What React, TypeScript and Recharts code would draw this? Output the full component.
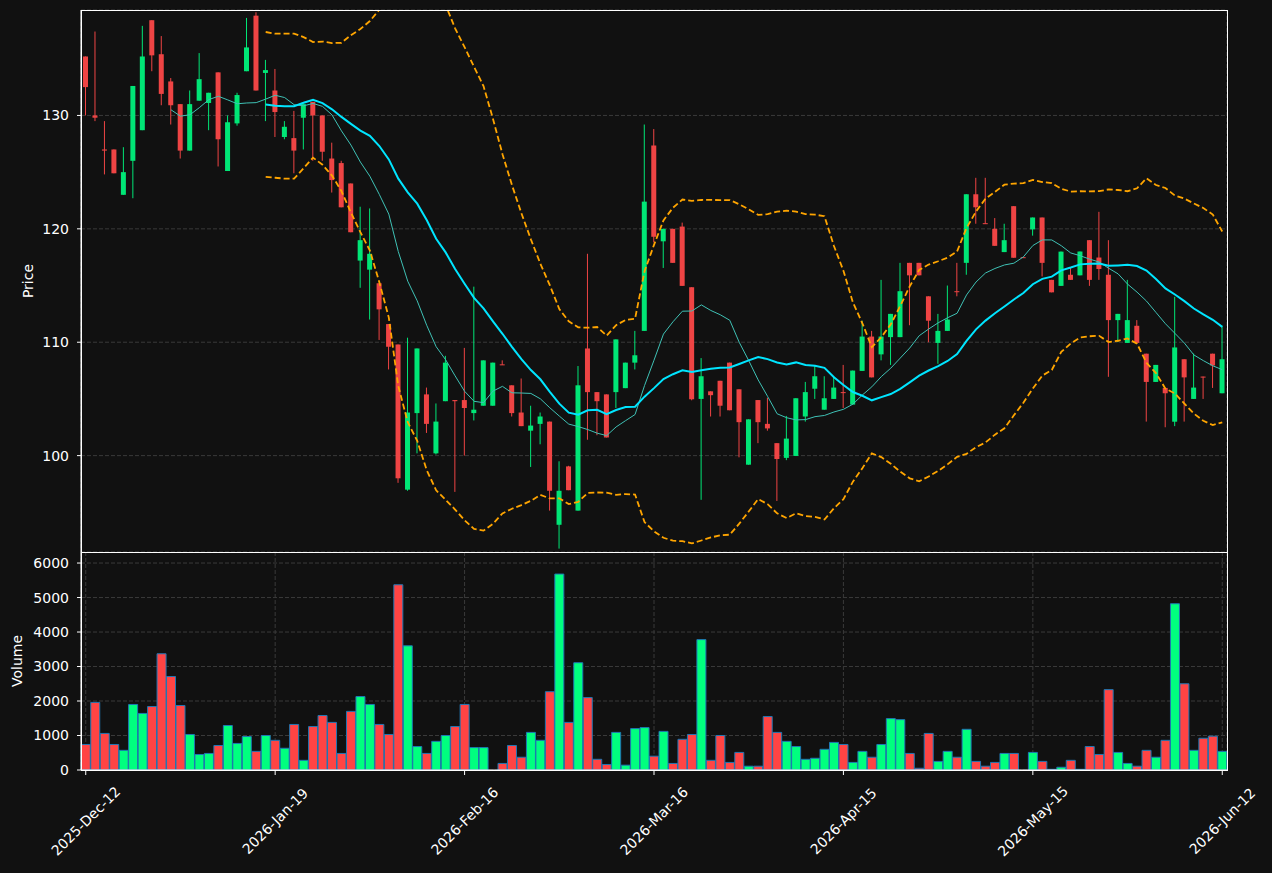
import { Bar, BarChart, CartesianGrid, Cell, ComposedChart, Line, XAxis, YAxis } from 'recharts';

const tickIndex = [0, 20, 40, 60, 80, 100, 120];
const tickLabels = ['2025-Dec-12', '2026-Jan-19', '2026-Feb-16', '2026-Mar-16', '2026-Apr-15', '2026-May-15', '2026-Jun-12'];

const opens = [
  135.2, 130.0, 127.0, 127.0, 123.0, 126.0, 128.7, 138.4, 135.4, 133.0,
  131.0, 126.9, 131.3, 131.1, 133.8, 125.1, 129.3, 133.9, 138.8, 133.75,
  132.2, 128.1, 128.0, 129.8, 131.2, 130.0, 126.2, 125.8, 124.0, 117.2,
  116.4, 115.2, 111.6, 109.8, 97.0, 103.75, 105.4, 100.2, 104.8, 104.9,
  104.9, 103.75, 104.4, 104.4, 108.05, 106.2, 103.8, 102.2, 102.8, 103.0,
  93.9, 99.05, 95.15, 109.45, 105.6, 105.4, 105.6, 105.95, 108.2, 111.0,
  127.35, 118.9, 120.0, 120.2, 114.85, 105.0, 105.67, 106.6, 108.2, 105.85,
  99.2, 104.9, 102.8, 101.1, 99.8, 99.97, 103.45, 105.9, 104.05, 105.0,
  105.6, 104.5, 107.47, 110.5, 108.93, 110.45, 110.45, 117.0, 117.0, 114.05,
  109.94, 111.0, 114.5, 117.0, 123.05, 120.5, 120.0, 117.95, 122.0, 117.5,
  119.95, 121.0, 115.5, 114.97, 115.95, 115.9, 119.0, 117.47, 115.95, 111.95,
  109.94, 111.45, 108.99, 106.5, 105.97, 102.99, 108.5, 105.0, 106.97, 108.99,
  105.5,
];
const highs = [
  135.2, 137.4, 129.5, 127.0, 127.2, 132.6, 137.9, 138.4, 137.0, 133.3,
  131.0, 132.2, 135.5, 132.0, 133.8, 130.0, 132.0, 138.6, 139.1, 134.9,
  134.1, 129.5, 130.4, 131.0, 131.2, 130.0, 127.6, 126.0, 124.0, 121.95,
  121.8, 115.2, 111.6, 109.8, 110.4, 109.45, 106.0, 104.6, 108.8, 104.9,
  109.5, 114.9, 108.4, 108.2, 108.4, 106.2, 106.8, 104.4, 103.8, 103.0,
  99.5, 99.1, 107.9, 117.8, 105.6, 105.4, 110.25, 108.2, 111.0, 129.2,
  128.8, 120.0, 120.0, 120.55, 114.85, 108.6, 105.67, 106.6, 108.2, 105.85,
  103.2, 104.9, 105.1, 101.1, 103.5, 105.06, 106.5, 107.9, 107.0, 107.0,
  108.0, 107.5, 111.9, 111.0, 115.5, 112.5, 117.0, 117.0, 117.0, 114.05,
  112.5, 115.0, 117.0, 123.05, 124.5, 124.5, 120.95, 120.45, 122.0, 117.5,
  121.0, 121.0, 115.5, 118.0, 116.55, 118.0, 119.0, 121.5, 119.0, 112.5,
  115.5, 111.95, 108.99, 108.0, 105.97, 114.0, 108.5, 109.0, 106.97, 108.99,
  111.45,
];
const lows = [
  130.0, 129.5, 124.8, 124.9, 123.0, 122.7, 128.7, 133.9, 130.9, 129.2,
  126.2, 126.9, 131.3, 128.7, 125.5, 125.1, 129.1, 133.9, 132.2, 129.5,
  128.1, 127.9, 124.9, 127.0, 126.0, 126.0, 123.2, 121.9, 119.7, 114.8,
  112.0, 110.2, 107.6, 97.6, 96.9, 100.2, 102.0, 100.1, 104.8, 96.8,
  100.0, 103.1, 104.4, 104.4, 108.0, 103.45, 102.6, 99.0, 101.0, 95.15,
  91.8, 96.95, 95.15, 101.4, 101.8, 101.6, 104.2, 105.95, 107.6, 111.0,
  118.8, 116.55, 117.0, 114.97, 104.88, 96.1, 103.45, 103.45, 104.0, 99.85,
  99.2, 101.1, 102.2, 96.0, 99.6, 99.97, 103.0, 105.0, 104.05, 105.0,
  104.2, 104.5, 107.47, 106.9, 108.4, 108.0, 110.45, 111.5, 115.9, 110.0,
  108.1, 111.0, 114.05, 115.95, 120.45, 120.45, 118.5, 117.95, 117.45, 117.45,
  119.4, 115.8, 114.4, 114.97, 115.5, 115.9, 114.97, 115.5, 106.95, 110.0,
  109.94, 109.94, 103.0, 106.5, 102.5, 102.6, 103.0, 105.0, 105.0, 105.97,
  105.5,
];
const closes = [
  132.5, 129.8, 126.9, 124.9, 125.0, 132.6, 135.2, 135.3, 131.9, 130.9,
  126.9, 131.0, 133.2, 132.0, 127.9, 129.4, 131.8, 136.0, 132.2, 134.0,
  130.3, 129.0, 126.9, 131.0, 130.0, 126.8, 124.3, 121.9, 119.7, 119.0,
  117.8, 112.9, 109.6, 98.0, 103.8, 109.45, 102.8, 103.0, 108.2, 104.8,
  104.2, 104.05, 108.4, 108.2, 108.0, 103.75, 102.6, 102.65, 103.45, 96.9,
  96.9, 96.95, 106.2, 105.6, 104.8, 101.6, 110.25, 108.2, 108.85, 122.4,
  119.3, 120.0, 117.0, 114.97, 104.97, 107.0, 105.33, 104.4, 104.0, 102.95,
  103.2, 102.95, 102.4, 99.7, 101.5, 105.06, 105.6, 107.0, 105.06, 106.0,
  105.55, 107.5, 110.5, 106.9, 110.5, 112.5, 114.5, 115.9, 115.9, 111.9,
  111.0, 112.0, 114.45, 123.05, 121.9, 120.45, 118.5, 119.0, 117.45, 117.45,
  121.0, 117.0, 114.4, 117.99, 115.5, 118.0, 115.5, 116.46, 111.95, 112.5,
  111.95, 109.94, 106.5, 108.0, 105.5, 109.54, 106.9, 106.0, 106.95, 107.95,
  108.5,
];
const volumes = [
  740, 1960, 1060, 740, 570, 1900, 1640, 1840, 3370, 2710,
  1870, 1030, 450, 480, 710, 1290, 770, 970, 540, 1000,
  860, 630, 1320, 280, 1260, 1580, 1380, 480, 1700, 2130,
  1900, 1320, 1030, 5370, 3600, 680, 480, 830, 1000, 1260,
  1900, 650, 650, 0, 190, 710, 370, 1090, 860, 2270,
  5680, 1380, 3110, 2100, 310, 160, 1090, 140, 1200, 1230,
  400, 1120, 190, 890, 1030, 3780, 280, 1000, 220, 510,
  110, 110, 1550, 1090, 830, 680, 310, 340, 600, 800,
  740, 220, 540, 370, 740, 1490, 1460, 480, 50, 1060,
  250, 540, 370, 1180, 250, 110, 220, 480, 480, 0,
  510, 250, 20, 80, 280, 20, 680, 450, 2330, 510,
  190, 110, 570, 370, 860, 4820, 2500, 570, 920, 980,
  540,
];

const BG = '#111111';
const GRID = '#3a3a3a';
const UP = '#00e676';
const DOWN = '#ef4444';
const VUP = '#00ff7f';
const VDOWN = '#ff4444';
const EDGE = '#1f77b4';
const FONT = 'DejaVu Sans, sans-serif';

function mean(vals: number[], end: number, n: number) {
  if (end < n - 1) return null;
  let s = 0;
  for (let k = end - n + 1; k <= end; k++) s += vals[k];
  return s / n;
}

// bollinger band, population std like the source
function band(vals: number[], end: number, n: number, sign: number) {
  const m = mean(vals, end, n);
  if (m === null) return null;
  let s = 0;
  for (let k = end - n + 1; k <= end; k++) s += (vals[k] - m) ** 2;
  return m + sign * 2 * Math.sqrt(s / n);
}

const rows = closes.map((c, i) => ({
  i,
  open: opens[i],
  high: highs[i],
  low: lows[i],
  close: c,
  volume: volumes[i],
  up: c >= opens[i],
  sma10: mean(closes, i, 10),
  sma20: mean(closes, i, 20),
  upper: band(closes, i, 20, 1),
  lower: band(closes, i, 20, -1),
}));

function Candle(props: any) {
  const { x, y, width, height, payload } = props;
  const { open, close, high, low } = payload;
  const top = Math.min(y, y + height);
  const h = Math.abs(height);
  const ppu = high > low ? h / (high - low) : 0;
  const cx = x + width / 2;
  const bodyTop = top + (high - Math.max(open, close)) * ppu;
  const bodyBot = top + (high - Math.min(open, close)) * ppu;
  const color = close >= open ? UP : DOWN;
  return (
    <g>
      <line x1={cx} x2={cx} y1={top} y2={top + h} stroke={color} strokeWidth={1} />
      <rect x={cx - 2.5} y={bodyTop} width={5} height={Math.max(bodyBot - bodyTop, 1)} fill={color} />
    </g>
  );
}

function XTick(props: any) {
  const { x, y, payload } = props;
  const label = tickLabels[tickIndex.indexOf(payload.value)];
  const cy = y + 44;
  return (
    <text
      x={x}
      y={cy}
      fill="white"
      fontSize={14}
      textAnchor="middle"
      dominantBaseline="central"
      transform={`rotate(-45, ${x}, ${cy})`}
    >
      {label}
    </text>
  );
}

function axisTitle(text: string, dx: number) {
  return (props: any) => {
    const vb = props.viewBox;
    const cx = vb.x + dx;
    const cy = vb.y + vb.height / 2;
    return (
      <text x={cx} y={cy} fill="white" fontSize={14} textAnchor="middle" dominantBaseline="central" transform={`rotate(-90, ${cx}, ${cy})`}>
        {text}
      </text>
    );
  };
}

const frame = { position: 'absolute' as const, border: '1px solid white', boxSizing: 'border-box' as const, pointerEvents: 'none' as const };

export default function App() {
  return (
    <div style={{ position: 'absolute', left: 0, top: 0, width: 1272, height: 873, background: BG, fontFamily: FONT }}>
      <div style={{ position: 'absolute', left: 0, top: 0 }}>
        <ComposedChart width={1272} height={552} data={rows} margin={{ top: 10, right: 45, bottom: 0, left: 0 }} barCategoryGap={0}>
          <CartesianGrid stroke={GRID} strokeDasharray="4 2" />
          <XAxis dataKey="i" type="category" ticks={tickIndex} interval={0} height={0} tick={false} tickLine={false} axisLine={{ stroke: 'white' }} />
          <YAxis
            type="number"
            domain={[91.5, 139.3]}
            allowDataOverflow
            ticks={[100, 110, 120, 130]}
            width={81}
            tickSize={4}
            tickMargin={8}
            tick={{ fill: 'white', fontSize: 14 }}
            tickLine={{ stroke: 'white' }}
            axisLine={{ stroke: 'white' }}
            label={{ content: axisTitle('Price', 28) }}
          />
          <Bar dataKey={(d: any) => [d.low, d.high]} shape={Candle} isAnimationActive={false} />
          <Line dataKey="sma10" stroke="#3fc1b5" strokeWidth={1} dot={false} activeDot={false} isAnimationActive={false} />
          <Line dataKey="sma20" stroke="#00e5ff" strokeWidth={2} dot={false} activeDot={false} isAnimationActive={false} />
          <Line dataKey="upper" stroke="#ffa500" strokeWidth={1.8} strokeDasharray="6 3" dot={false} activeDot={false} isAnimationActive={false} />
          <Line dataKey="lower" stroke="#ffa500" strokeWidth={1.8} strokeDasharray="6 3" dot={false} activeDot={false} isAnimationActive={false} />
        </ComposedChart>
      </div>
      <div style={{ position: 'absolute', left: 0, top: 552 }}>
        <BarChart width={1272} height={321} data={rows} margin={{ top: 0, right: 45, bottom: 0, left: 0 }} barCategoryGap="3%">
          <CartesianGrid stroke={GRID} strokeDasharray="4 2" />
          <XAxis
            dataKey="i"
            type="category"
            ticks={tickIndex}
            interval={0}
            height={103}
            tickSize={5}
            tick={<XTick />}
            tickLine={{ stroke: 'white' }}
            axisLine={{ stroke: 'white' }}
          />
          <YAxis
            type="number"
            domain={[0, 6320]}
            allowDataOverflow
            ticks={[0, 1000, 2000, 3000, 4000, 5000, 6000]}
            width={81}
            tickSize={4}
            tickMargin={8}
            tick={{ fill: 'white', fontSize: 14 }}
            tickLine={{ stroke: 'white' }}
            axisLine={{ stroke: 'white' }}
            label={{ content: axisTitle('Volume', 17) }}
          />
          <Bar dataKey="volume" stroke={EDGE} strokeWidth={1} isAnimationActive={false}>
            {rows.map((r) => (
              <Cell key={r.i} fill={r.up ? VUP : VDOWN} />
            ))}
          </Bar>
        </BarChart>
      </div>
      <div style={{ ...frame, left: 80.5, top: 9.5, width: 1147, height: 543 }} />
      <div style={{ ...frame, left: 80.5, top: 551.5, width: 1147, height: 219 }} />
    </div>
  );
}
